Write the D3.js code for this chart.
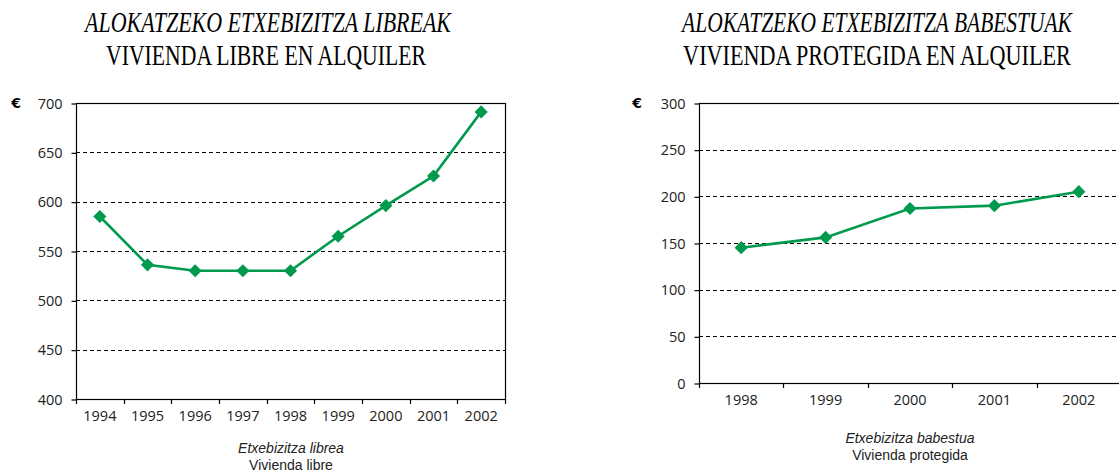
<!doctype html>
<html>
<head>
<meta charset="utf-8">
<script src="https://cdn.jsdelivr.net/npm/d3@7"></script>
<style>
  body { margin: 0; background: #fff; }
  svg { display: block; }
  .title { font-family: "Liberation Serif", "Times New Roman", serif; font-size: 29px; fill: #000; }
  .sub { font-family: "Liberation Sans", Arial, sans-serif; font-size: 14px; fill: #222; }
</style>
</head>
<body>
<svg width="1119" height="474"></svg>
<script>
// vivienda libre
var yearsLibre = ["1994", "1995", "1996", "1997", "1998", "1999", "2000", "2001", "2002"];
var valuesLibre = [585, 536, 530, 530, 530, 565, 596, 626, 691];
var ticksLibre = [400, 450, 500, 550, 600, 650, 700];

// vivienda protegida
var yearsBabes = ["1998", "1999", "2000", "2001", "2002"];
var valuesBabes = [145, 156, 187, 190, 205];
var ticksBabes = [0, 50, 100, 150, 200, 250, 300];

var green = "#009a4e";
var svg = d3.select("svg");

// condensed title: squeeze horizontally to the wanted width
function squeezed(g, txt, cx, y, w, italic) {
    var t = g.append("text")
     .attr("class", "title")
     .attr("text-anchor", "middle")
     .attr("font-style", italic ? "italic" : null)
     .text(txt);
    var k = w / t.node().getComputedTextLength();
    t.attr("transform", "translate(" + cx + "," + y + ") scale(" + k + ",1)");
}

function drawChart(o) {
    var x = d3.scaleBand().domain(o.years).range([o.left, o.right]);
    var y = d3.scaleLinear().domain([o.ticks[0], o.ticks[o.ticks.length - 1]]).range([o.bottom, o.top]);
    var g = svg.append("g");

    // dashed grid
    g.selectAll(".grid")
     .data(o.ticks.slice(1, -1))
     .enter().append("line")
     .attr("x1", o.left).attr("x2", o.right)
     .attr("y1", function(d) { return Math.round(y(d)) + 0.5; })
     .attr("y2", function(d) { return Math.round(y(d)) + 0.5; })
     .attr("stroke", "#000")
     .attr("stroke-width", 1)
     .attr("stroke-dasharray", "4,3");

    // frame
    g.append("rect")
     .attr("x", o.left + 0.5).attr("y", o.top + 0.5)
     .attr("width", o.right - o.left)
     .attr("height", o.bottom - o.top)
     .attr("fill", "none")
     .attr("stroke", "#000")
     .attr("stroke-width", 1.2);

    var ya = g.append("g")
     .attr("transform", "translate(" + (o.left + 0.5) + ",0.5)")
     .call(d3.axisLeft(y).tickValues(o.ticks).tickSize(5).tickPadding(9));
    ya.select(".domain").remove();
    ya.selectAll(".tick line").attr("stroke", "#000").attr("stroke-width", 1.2);
    ya.selectAll(".tick text")
      .attr("font-family", "Open Sans, sans-serif")
      .attr("font-size", "14.5px")
      .attr("fill", "#222");

    var xa = g.append("g")
     .attr("transform", "translate(0," + (o.bottom + 0.5) + ")")
     .call(d3.axisBottom(x).tickSize(0).tickPadding(11));
    xa.select(".domain").remove();
    xa.selectAll(".tick text")
      .attr("font-family", "Open Sans, sans-serif")
      .attr("font-size", "14.5px")
      .attr("fill", "#222");

    // ticks between the years
    var bounds = o.years.map(function(d) { return x(d); }).concat([o.right]);
    g.selectAll(".xt")
     .data(bounds)
     .enter().append("line")
     .attr("x1", function(d) { return Math.round(d) + 0.5; })
     .attr("x2", function(d) { return Math.round(d) + 0.5; })
     .attr("y1", o.bottom).attr("y2", o.bottom + 5)
     .attr("stroke", "#000").attr("stroke-width", 1.2);

    var pts = o.years.map(function(d, i) { return [x(d) + x.bandwidth() / 2, y(o.values[i])]; });

    g.append("path")
     .attr("d", d3.line()(pts))
     .attr("fill", "none")
     .attr("stroke", green)
     .attr("stroke-width", 2.6);

    g.selectAll(".pt")
     .data(pts)
     .enter().append("path")
     .attr("d", d3.symbol().type(d3.symbolDiamond2).size(110))
     .attr("transform", function(d) { return "translate(" + d[0] + "," + d[1] + ")"; })
     .attr("fill", green);

    // euro sign
    g.append("text")
     .attr("x", o.euroX).attr("y", o.top + 5)
     .attr("text-anchor", "middle")
     .attr("font-family", "DejaVu Sans, sans-serif")
     .attr("font-weight", "bold")
     .attr("font-size", "14px")
     .text("€");

    squeezed(g, o.title1, o.t1x, 32, o.t1w, true);
    squeezed(g, o.title2, o.t2x, 65, o.t2w, false);

    g.append("text")
     .attr("class", "sub")
     .attr("x", o.subX).attr("y", o.subY)
     .attr("text-anchor", "middle")
     .attr("font-style", "italic")
     .text(o.sub1);
    g.append("text")
     .attr("class", "sub")
     .attr("x", o.subX).attr("y", o.subY + 16.5)
     .attr("text-anchor", "middle")
     .text(o.sub2);
}

drawChart({
    years: yearsLibre, values: valuesLibre, ticks: ticksLibre,
    left: 76, right: 505, top: 103, bottom: 399,
    euroX: 16,
    t1x: 268, t1w: 366, t2x: 266, t2w: 320,
    title1: "ALOKATZEKO ETXEBIZITZA LIBREAK",
    title2: "VIVIENDA LIBRE EN ALQUILER",
    subX: 291, subY: 453,
    sub1: "Etxebizitza librea", sub2: "Vivienda libre"
});

drawChart({
    years: yearsBabes, values: valuesBabes, ticks: ticksBabes,
    left: 699, right: 1121, top: 103, bottom: 383,
    euroX: 637,
    t1x: 877, t1w: 390, t2x: 877, t2w: 388,
    title1: "ALOKATZEKO ETXEBIZITZA BABESTUAK",
    title2: "VIVIENDA PROTEGIDA EN ALQUILER",
    subX: 910, subY: 443,
    sub1: "Etxebizitza babestua", sub2: "Vivienda protegida"
});
</script>
</body>
</html>
